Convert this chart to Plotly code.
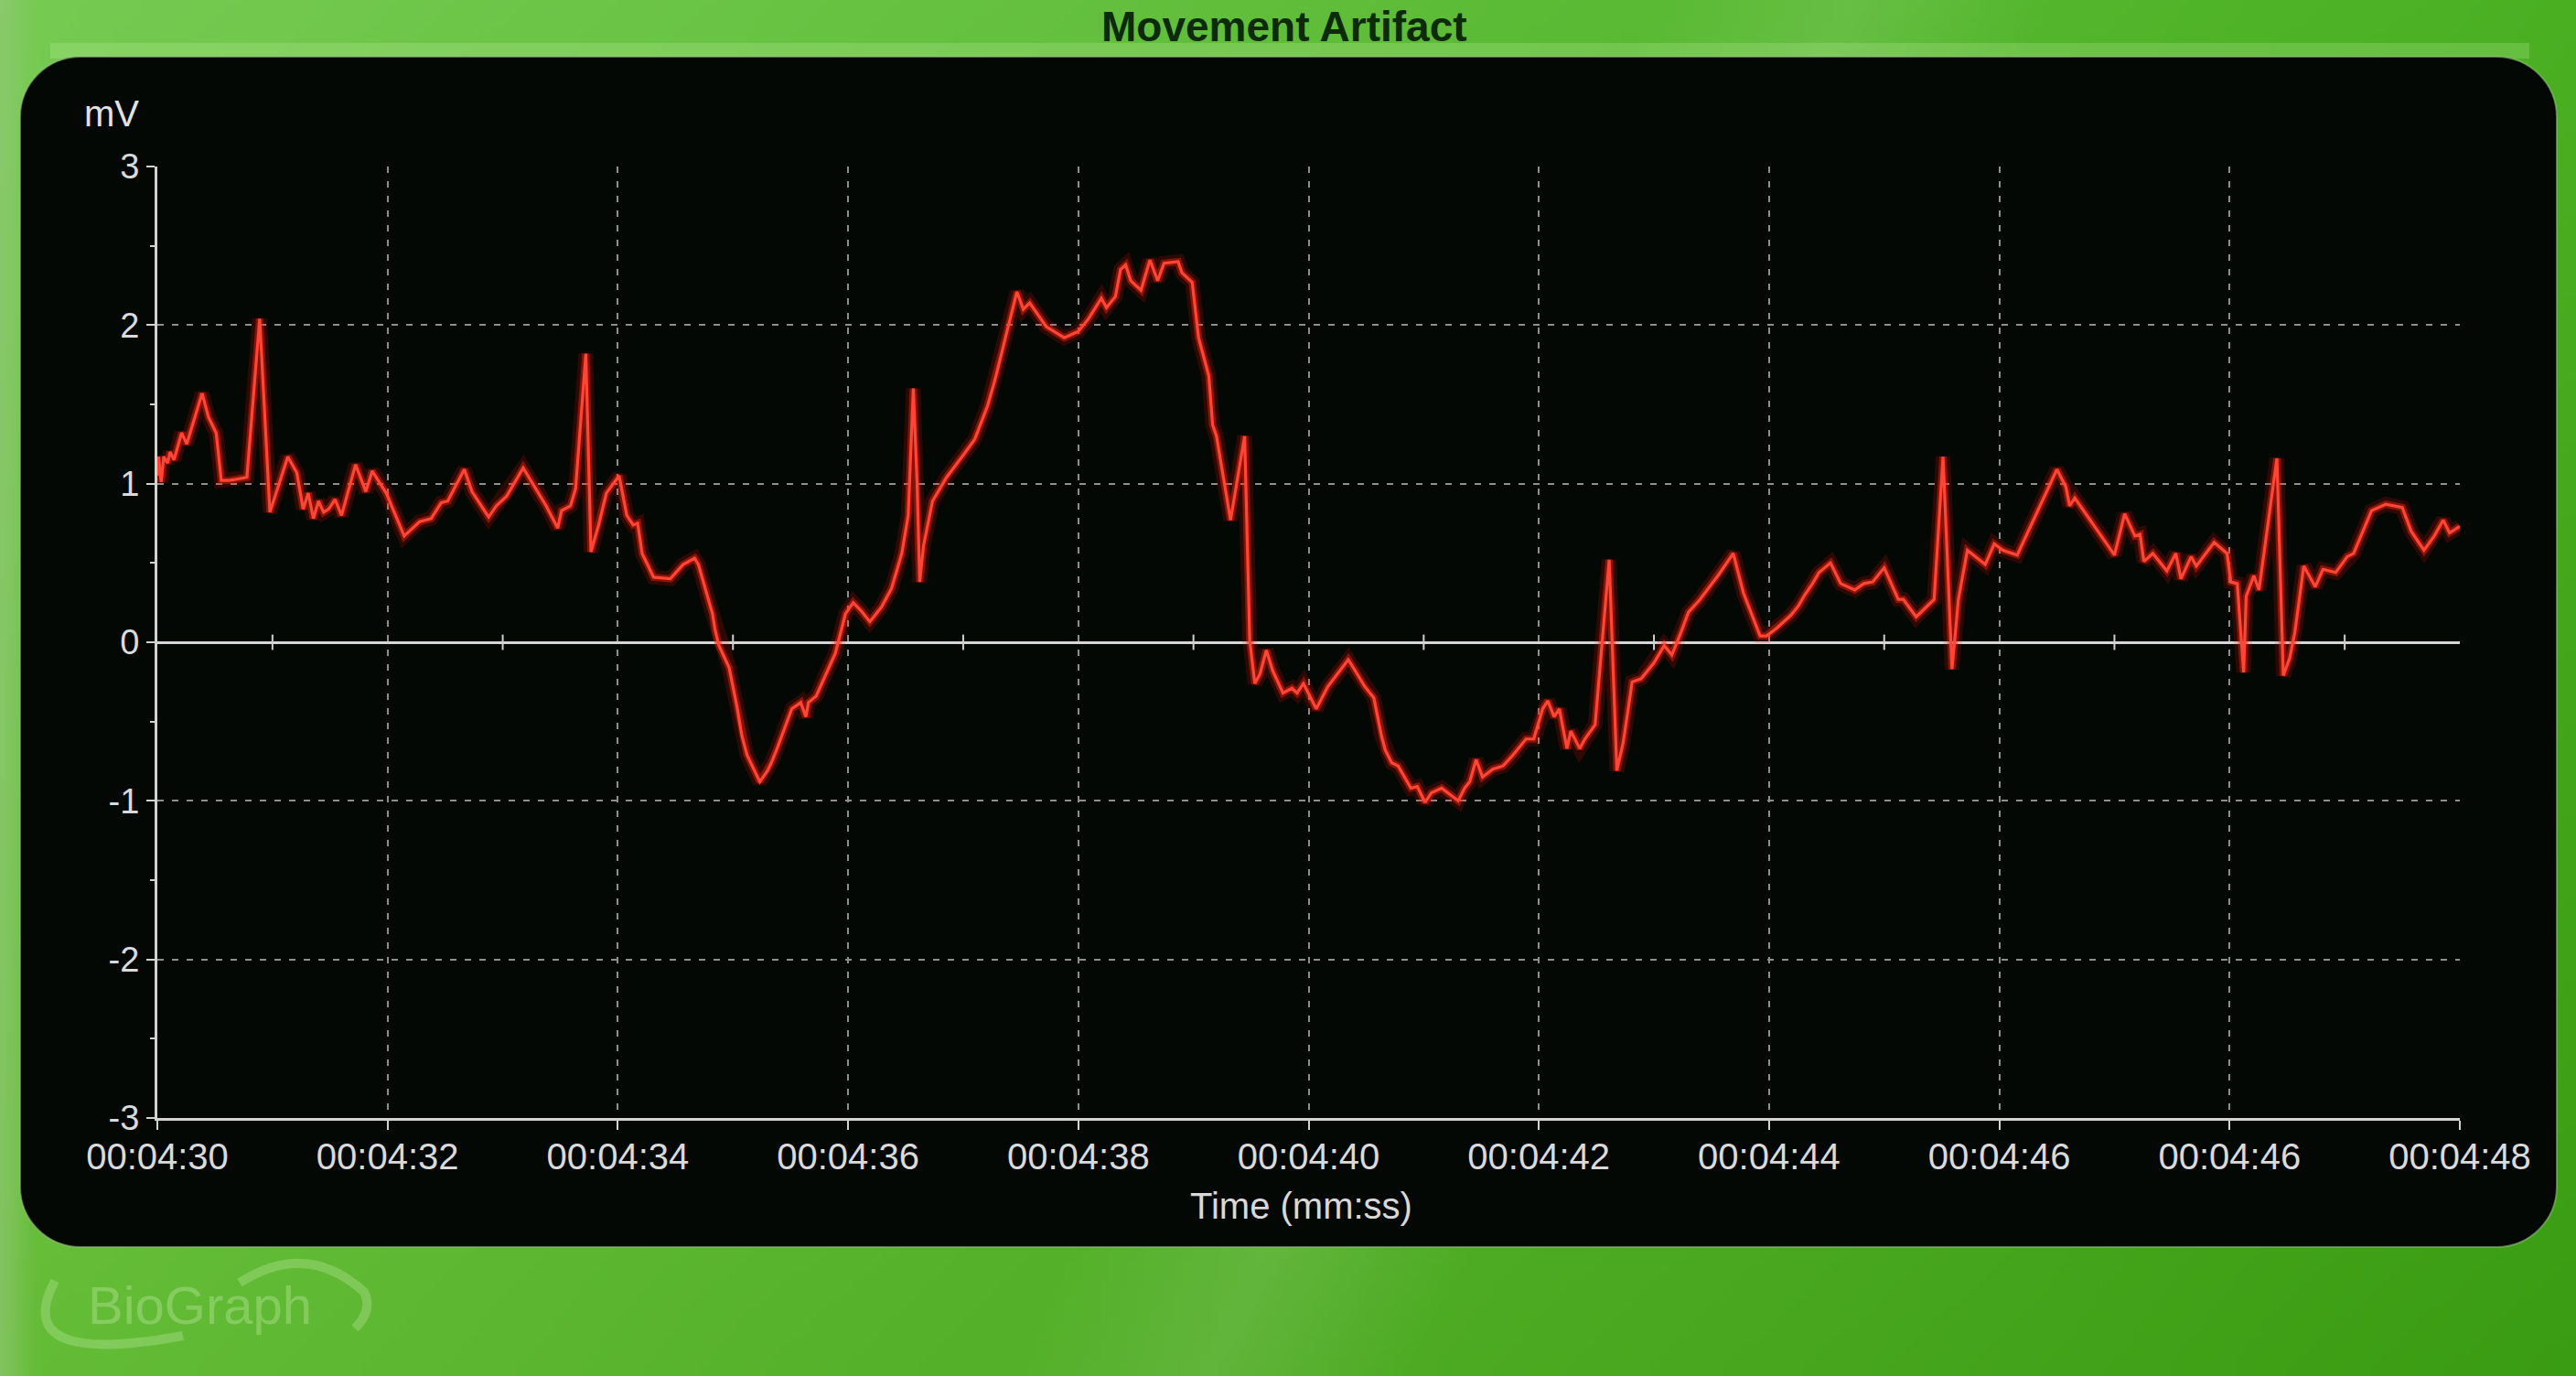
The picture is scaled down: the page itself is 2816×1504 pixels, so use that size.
import base64
import struct
import zlib

import plotly.graph_objects as go

# ---------------- data ----------------
TIME_S = [
    0.00, 0.01, 0.03, 0.05, 0.08, 0.10, 0.13, 0.19, 0.23, 0.35, 0.40, 0.46, 0.50, 0.56, 0.70,
    0.80, 0.88, 0.94, 1.02, 1.09, 1.14, 1.18, 1.22, 1.26, 1.30, 1.34, 1.39, 1.44, 1.55, 1.63,
    1.68, 1.79, 1.93, 2.05, 2.14, 2.22, 2.27, 2.40, 2.46, 2.59, 2.65, 2.73, 2.86, 3.04, 3.13,
    3.16, 3.23, 3.27, 3.35, 3.39, 3.45, 3.51, 3.61, 3.67, 3.72, 3.755,
    3.79, 3.88, 4.01, 4.11, 4.20, 4.23, 4.31, 4.34, 4.36, 4.39, 4.47, 4.53, 4.57, 4.61, 4.71,
    4.77, 4.80, 4.85, 4.96, 5.03, 5.07, 5.09, 5.15, 5.22, 5.30, 5.38, 5.44, 5.50, 5.57, 5.66,
    5.74, 5.82, 5.87, 5.91, 5.94, 5.96, 5.99, 6.06, 6.17, 6.30, 6.39, 6.49, 6.55, 6.63, 6.72,
    6.77, 6.82, 6.88, 6.95, 7.09, 7.20, 7.28, 7.38, 7.42, 7.49, 7.53, 7.57, 7.61, 7.69, 7.76,
    7.82, 7.87, 7.98, 8.01, 8.09, 8.14, 8.22, 8.25, 8.28, 8.39, 8.50,
    8.54, 8.58, 8.62, 8.67, 8.72, 8.80, 8.87, 8.91, 8.96, 9.06, 9.15, 9.31, 9.35, 9.44, 9.51,
    9.57, 9.60, 9.65, 9.70, 9.80, 9.85, 9.91, 9.96, 10.04, 10.09, 10.17, 10.22, 10.26, 10.31,
    10.36, 10.44, 10.52, 10.60, 10.70, 10.76, 10.83, 10.87, 10.92, 10.96,
    11.02, 11.05, 11.12, 11.16, 11.24, 11.35, 11.41, 11.46, 11.53, 11.60, 11.70, 11.78, 11.84,
    11.91, 11.97, 12.06, 12.20, 12.32, 12.40, 12.53, 12.58, 12.66, 12.77, 12.83, 12.88, 12.94,
    12.99, 13.08, 13.16, 13.27, 13.34, 13.41, 13.50, 13.61, 13.65, 13.75, 13.86, 13.89, 13.96,
    14.03, 14.08, 14.15, 14.29, 14.36, 14.43,
    14.54, 14.85, 14.92, 14.95, 14.99, 15.30, 15.38, 15.46, 15.50, 15.53, 15.60, 15.71, 15.78,
    15.82, 15.90, 15.94, 16.08, 16.18, 16.21, 16.26, 16.31, 16.33, 16.39, 16.43, 16.57, 16.62,
    16.67, 16.71, 16.78, 16.87, 16.93, 17.03, 17.12, 17.17, 17.31, 17.42, 17.55, 17.62, 17.72,
    17.80, 17.87, 17.92, 18.00,
]
MV = [
    1.05, 1.17, 1.01, 1.17, 1.13, 1.20, 1.15, 1.32, 1.25, 1.57, 1.42, 1.32, 1.02, 1.02, 1.04,
    2.04, 0.82, 0.97, 1.17, 1.07, 0.84, 0.94, 0.78, 0.89, 0.82, 0.84, 0.90, 0.80, 1.12, 0.95,
    1.08, 0.94, 0.67, 0.76, 0.78, 0.88, 0.89, 1.09, 0.95, 0.79, 0.86, 0.92, 1.10, 0.86, 0.72,
    0.83, 0.86, 0.97, 1.82, 0.57, 0.74, 0.94, 1.05, 0.80, 0.74, 0.75,
    0.56, 0.41, 0.40, 0.49, 0.53, 0.49, 0.26, 0.18, 0.08, -0.02, -0.16, -0.40, -0.59, -0.71, -0.88,
    -0.81, -0.76, -0.66, -0.42, -0.38, -0.47, -0.38, -0.34, -0.21, -0.07, 0.18, 0.25, 0.20, 0.13, 0.22,
    0.34, 0.56, 0.80, 1.60, 0.99, 0.38, 0.61, 0.89, 1.04, 1.18, 1.28, 1.49, 1.66, 1.92, 2.21,
    2.10, 2.14, 2.07, 1.99, 1.92, 1.96, 2.04, 2.17, 2.11, 2.18, 2.35, 2.38, 2.28, 2.22, 2.41,
    2.28, 2.39, 2.40, 2.33, 2.27, 1.92, 1.68, 1.37, 1.30, 0.77, 1.30,
    0.01, -0.26, -0.20, -0.05, -0.18, -0.32, -0.29, -0.32, -0.26, -0.42, -0.28, -0.11, -0.16, -0.28, -0.35,
    -0.59, -0.68, -0.76, -0.78, -0.92, -0.91, -1.01, -0.95, -0.92, -0.95, -1.00, -0.92, -0.88, -0.74,
    -0.85, -0.80, -0.78, -0.71, -0.61, -0.61, -0.42, -0.37, -0.47, -0.42,
    -0.67, -0.56, -0.67, -0.61, -0.52, 0.52, -0.81, -0.63, -0.25, -0.23, -0.13, -0.02, -0.08,
    0.06, 0.19, 0.27, 0.42, 0.56, 0.31, 0.04, 0.04, 0.09, 0.17, 0.23, 0.30, 0.37,
    0.44, 0.50, 0.37, 0.33, 0.37, 0.38, 0.47, 0.27, 0.27, 0.16, 0.25, 0.27, 1.17,
    -0.17, 0.27, 0.58, 0.49, 0.62, 0.58,
    0.55, 1.09, 0.98, 0.86, 0.91, 0.55, 0.81, 0.67, 0.68, 0.51, 0.56, 0.45, 0.56,
    0.40, 0.54, 0.48, 0.63, 0.56, 0.38, 0.37, -0.19, 0.29, 0.42, 0.33, 1.16, -0.21,
    -0.10, 0.06, 0.48, 0.35, 0.46, 0.44, 0.54, 0.56, 0.83, 0.87, 0.85, 0.70, 0.58,
    0.67, 0.77, 0.69, 0.73,
]
START_S = 270  # 00:04:30
TICK_LABELS = ["00:04:30", "00:04:32", "00:04:34", "00:04:36", "00:04:38", "00:04:40",
               "00:04:42", "00:04:44", "00:04:46", "00:04:46", "00:04:48"]
Y_TICKS = [-3, -2, -1, 0, 1, 2, 3]
Y_TICK_TEXT = ["-3", "-2", "-1", "0", "1", "2", "3"]
TITLE = "Movement Artifact"
X_TITLE = "Time (mm:ss)"
Y_UNIT = "mV"
LOGO = "BioGraph"

# ---------------- geometry ----------------
W, H = 2816, 1504
L, R, T, B = 172, 2689, 182, 1222          # plot area in pixels
SPAN = 18.0
n_int = len(TICK_LABELS) - 1
tick_pos = [START_S + SPAN * i / n_int for i in range(len(TICK_LABELS))]
half_pos = [START_S + SPAN * (i + 0.5) / n_int for i in range(n_int)]
x_vals = [START_S + t for t in TIME_S]


def px(x):
    return (x - L) / (R - L)


def py(y):
    return (B - y) / (B - T)


FONT = "Liberation Sans, Arial, Helvetica, sans-serif"


# ---------------- background gradient image ----------------
def lerp(a, b, t):
    return a + (b - a) * t


def bg_pixel(u, v):
    tl, tr, bl, br = (118, 203, 82), (74, 176, 34), (100, 188, 54), (58, 156, 18)
    top = [lerp(tl[k], tr[k], u) for k in range(3)]
    bot = [lerp(bl[k], br[k], u) for k in range(3)]
    c = [lerp(top[k], bot[k], v) for k in range(3)]
    if u < 0.012:
        a = 1 - u / 0.012
        c = [lerp(c[k], (150, 200, 125)[k], 0.55 * a) for k in range(3)]
    d = abs((u - 0.72) + 0.25 * v)
    if d < 0.08:
        a = (1 - d / 0.08) * 0.10
        c = [lerp(c[k], 255, a) for k in range(3)]
    return tuple(int(max(0, min(255, round(x)))) for x in c)


def png_uri(w, h, fn):
    raw = bytearray()
    for j in range(h):
        raw.append(0)
        for i in range(w):
            raw += bytes(fn(i / (w - 1), j / (h - 1)))

    def chunk(tag, data):
        return (struct.pack(">I", len(data)) + tag + data
                + struct.pack(">I", zlib.crc32(tag + data) & 0xFFFFFFFF))

    png = (b"\x89PNG\r\n\x1a\n"
           + chunk(b"IHDR", struct.pack(">IIBBBBB", w, h, 8, 2, 0, 0, 0))
           + chunk(b"IDAT", zlib.compress(bytes(raw), 9))
           + chunk(b"IEND", b""))
    return "data:image/png;base64," + base64.b64encode(png).decode()


bg_uri = png_uri(282, 151, bg_pixel)


def rrect(x0, y0, x1, y1, r):
    k = 0.5523 * r
    p = lambda x, y: f"{px(x):.6f},{py(y):.6f}"
    return (f"M {p(x0 + r, y0)} L {p(x1 - r, y0)} "
            f"C {p(x1 - r + k, y0)} {p(x1, y0 + r - k)} {p(x1, y0 + r)} "
            f"L {p(x1, y1 - r)} "
            f"C {p(x1, y1 - r + k)} {p(x1 - r + k, y1)} {p(x1 - r, y1)} "
            f"L {p(x0 + r, y1)} "
            f"C {p(x0 + r - k, y1)} {p(x0, y1 - r + k)} {p(x0, y1 - r)} "
            f"L {p(x0, y0 + r)} "
            f"C {p(x0, y0 + r - k)} {p(x0 + r - k, y0)} {p(x0 + r, y0)} Z")


def ppath(*segs):
    out = []
    for s in segs:
        if isinstance(s, str):
            out.append(s)
        else:
            out.append(f"{px(s[0]):.6f},{py(s[1]):.6f}")
    return " ".join(out)


fig = go.Figure()

# glow + core of the signal line
fig.add_trace(go.Scatter(x=x_vals, y=MV, mode="lines",
                         line=dict(color="rgba(255,20,0,0.17)", width=16), hoverinfo="skip"))
fig.add_trace(go.Scatter(x=x_vals, y=MV, mode="lines",
                         line=dict(color="rgba(255,35,15,0.42)", width=8), hoverinfo="skip"))
fig.add_trace(go.Scatter(x=x_vals, y=MV, mode="lines",
                         line=dict(color="#ff4535", width=3.2), hoverinfo="skip"))
# small ticks on the zero line
fig.add_trace(go.Scatter(x=half_pos, y=[0] * len(half_pos), mode="markers",
                         marker=dict(symbol="line-ns", size=12,
                                     line=dict(color="#cfcfcf", width=2)),
                         hoverinfo="skip"))

shapes = [
    dict(type="rect", xref="paper", yref="paper", layer="below",
         x0=px(55), x1=px(2765), y0=py(64), y1=py(47),
         fillcolor="rgba(205,245,175,0.22)", line=dict(width=0)),
    dict(type="path", xref="paper", yref="paper", layer="below",
         path=rrect(22, 62, 2795, 1363, 66),
         fillcolor="#040804", line=dict(color="rgba(150,190,130,0.55)", width=2)),
    dict(type="path", xref="paper", yref="paper", layer="below",
         path=ppath("M", (60, 1400), "Q", (10, 1495), (200, 1460)),
         line=dict(color="rgba(210,245,185,0.28)", width=10)),
    dict(type="path", xref="paper", yref="paper", layer="below",
         path=ppath("M", (262, 1402), "Q", (335, 1355), (398, 1412), "Q", (408, 1432), (388, 1452)),
         line=dict(color="rgba(210,245,185,0.28)", width=10)),
]

annotations = [
    dict(text=f"<b>{TITLE}</b>", xref="paper", yref="paper", x=px(1404), y=py(1),
         xanchor="center", yanchor="top", showarrow=False,
         font=dict(family=FONT, size=46, color="#0d2a09")),
    dict(text=Y_UNIT, xref="paper", yref="paper", x=px(122), y=py(124),
         xanchor="center", yanchor="middle", showarrow=False,
         font=dict(family=FONT, size=40, color="#e2e2e2")),
    dict(text=X_TITLE, xref="paper", yref="paper", x=px(1422), y=py(1318),
         xanchor="center", yanchor="middle", showarrow=False,
         font=dict(family=FONT, size=40, color="#d8d8d8")),
    dict(text=LOGO, xref="paper", yref="paper", x=px(218), y=py(1426),
         xanchor="center", yanchor="middle", showarrow=False,
         font=dict(family=FONT, size=58, color="rgba(215,245,195,0.30)")),
]

fig.update_layout(
    width=W, height=H,
    margin=dict(l=L, r=W - R, t=T, b=H - B, autoexpand=False),
    paper_bgcolor="#5cb82e",
    plot_bgcolor="rgba(0,0,0,0)",
    showlegend=False,
    hovermode=False,
    shapes=shapes,
    annotations=annotations,
    images=[dict(source=bg_uri, xref="paper", yref="paper",
                 x=px(0), y=py(0), sizex=px(W) - px(0), sizey=py(0) - py(H),
                 xanchor="left", yanchor="top", sizing="stretch", layer="below")],
    xaxis=dict(
        range=[START_S, START_S + SPAN], tickmode="array", tickvals=tick_pos, ticktext=TICK_LABELS,
        showgrid=False, zeroline=False, automargin=False,
        showline=True, linecolor="#d2d2d2", linewidth=3,
        ticks="outside", ticklen=10, tickwidth=2, tickcolor="#d2d2d2",
        ticklabelstandoff=-5,
        tickfont=dict(family=FONT, size=40, color="#dadada"),
        minor=dict(tickmode="array", tickvals=tick_pos[1:-1], ticks="",
                   showgrid=True, gridcolor="#8e8e8e", gridwidth=2, griddash="7px,9px"),
        fixedrange=True,
    ),
    yaxis=dict(
        range=[-3, 3], tickmode="array", tickvals=Y_TICKS, ticktext=Y_TICK_TEXT,
        showgrid=True, gridcolor="#8e8e8e", gridwidth=2, griddash="7px,9px",
        zeroline=True, zerolinecolor="#d6d6d6", zerolinewidth=3, automargin=False,
        showline=True, linecolor="#d2d2d2", linewidth=3,
        ticks="outside", ticklen=9, tickwidth=2, tickcolor="#d2d2d2",
        minor=dict(dtick=0.5, ticks="outside", ticklen=5, tickwidth=2, tickcolor="#d2d2d2",
                   showgrid=False),
        tickfont=dict(family=FONT, size=38, color="#dadada"),
        fixedrange=True,
    ),
)

fig.write_html(
    "out.html",
    config={"displayModeBar": False, "staticPlot": True},
    post_script="document.body.style.margin='0';document.body.style.padding='0';"
                "document.documentElement.style.margin='0';",
)
